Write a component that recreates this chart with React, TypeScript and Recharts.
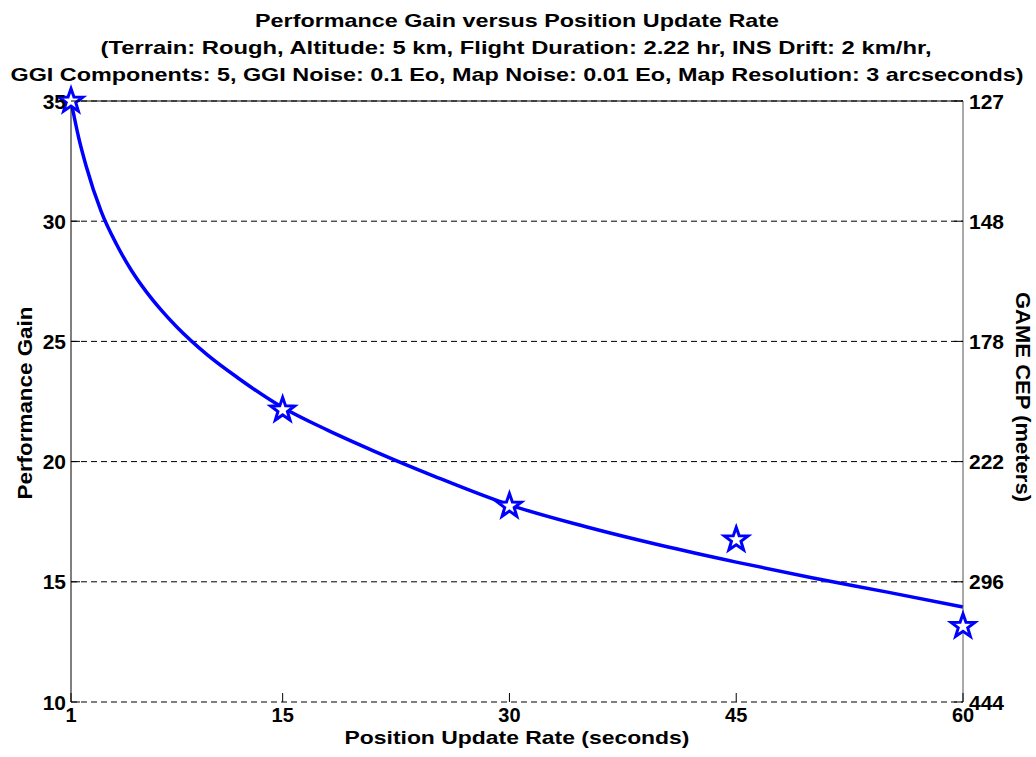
import React from 'react';
import { ComposedChart, Line, Scatter, XAxis, YAxis, CartesianGrid, ReferenceLine } from 'recharts';

// fitted curve
const curveX = [1, 1.5, 2, 3, 4, 5, 6, 7, 8, 10, 12, 15, 18, 21, 25, 30, 35, 40, 45, 50, 55, 60];
const curveGain = [35.0, 33.5, 32.3, 30.4, 29.05, 27.95, 27.05, 26.28, 25.6, 24.45, 23.5, 22.25, 21.3, 20.45, 19.4, 18.2, 17.3, 16.52, 15.82, 15.17, 14.57, 13.95];

// measured points (stars)
const rateX = [1, 15, 30, 45, 60];
const measuredGain = [35.0, 22.15, 18.15, 16.75, 13.15];

const xTicks = [1, 15, 30, 45, 60];
const gainTicks = [10, 15, 20, 25, 30, 35];
const cepLabels = ['444', '296', '222', '178', '148', '127'];

const titleLines = [
  'Performance Gain versus Position Update Rate',
  '(Terrain: Rough, Altitude: 5 km, Flight Duration: 2.22 hr, INS Drift: 2 km/hr,',
  'GGI Components: 5, GGI Noise: 0.1 Eo, Map Noise: 0.01 Eo, Map Resolution: 3 arcseconds)',
];

const FONT = '"Liberation Sans", Arial, sans-serif';
const BLUE = '#0000ff';

const curveData = curveX.map((x, i) => ({ x, gain: curveGain[i] }));
const starData = rateX.map((x, i) => ({ x, gain: measuredGain[i] }));

const BottomTick = ({ x, y, payload }: any) => (
  <g>
    <line x1={x} y1={y} x2={x} y2={y - 9} stroke="#000" />
    <text x={x} y={y + 20} textAnchor="middle" fontFamily={FONT} fontWeight="bold" fontSize={20} fill="#000">
      {payload.value}
    </text>
  </g>
);

const LeftTick = ({ x, y, payload }: any) => (
  <g>
    <line x1={x} y1={y} x2={x + 9} y2={y} stroke="#000" />
    <text x={x - 5} y={y + 7.5} textAnchor="end" fontFamily={FONT} fontWeight="bold" fontSize={21} fill="#000">
      {payload.value}
    </text>
  </g>
);

const RightTick = ({ x, y, payload }: any) => (
  <g>
    <line x1={x} y1={y} x2={x - 9} y2={y} stroke="#000" />
    <text x={x + 6} y={y + 7.5} textAnchor="start" fontFamily={FONT} fontWeight="bold" fontSize={21} fill="#000">
      {cepLabels[gainTicks.indexOf(Number(payload.value))]}
    </text>
  </g>
);

const Star = ({ cx, cy }: any) => {
  if (cx == null || cy == null) return null;
  const R = 12.5;
  const r = 5;
  let d = '';
  for (let k = 0; k < 10; k++) {
    const rad = k % 2 === 0 ? R : r;
    const a = -Math.PI / 2 + (k * Math.PI) / 5;
    d += (k === 0 ? 'M' : 'L') + (cx + rad * Math.cos(a)).toFixed(2) + ',' + (cy + rad * Math.sin(a)).toFixed(2);
  }
  d += 'Z';
  return <path d={d} fill="#fff" stroke={BLUE} strokeWidth={3} strokeLinejoin="miter" />;
};

export default function App() {
  return (
    <div style={{ position: 'absolute', left: 0, top: 0, width: 1036, height: 757, background: '#fff' }}>
      <ComposedChart width={1036} height={757} margin={{ top: 101, right: 0, bottom: 0, left: 0 }}>
        <CartesianGrid vertical={false} stroke="#000" strokeDasharray="6 4" yAxisId="left" />
        <XAxis
          type="number"
          dataKey="x"
          domain={[1, 60]}
          ticks={xTicks}
          axisLine={false}
          tickSize={0}
          tickMargin={0}
          tick={<BottomTick />}
          height={55}
        />
        <YAxis
          yAxisId="left"
          type="number"
          domain={[10, 35]}
          ticks={gainTicks}
          width={71}
          axisLine={{ stroke: '#000' }}
          tickSize={0}
          tickMargin={0}
          tick={<LeftTick />}
        />
        <YAxis
          yAxisId="right"
          orientation="right"
          type="number"
          domain={[10, 35]}
          ticks={gainTicks}
          allowDataOverflow
          width={73}
          axisLine={{ stroke: '#555' }}
          tickSize={0}
          tickMargin={0}
          tick={<RightTick />}
        />
        <ReferenceLine yAxisId="left" y={35} stroke="#000" />
        <Line
          yAxisId="left"
          data={curveData}
          dataKey="gain"
          type="monotone"
          stroke={BLUE}
          strokeWidth={3.5}
          dot={false}
          activeDot={false}
          isAnimationActive={false}
        />
        <Scatter
          yAxisId="left"
          data={starData}
          dataKey="gain"
          shape={<Star />}
          isAnimationActive={false}
        />
      </ComposedChart>
      <svg width={1036} height={757} style={{ position: 'absolute', left: 0, top: 0, pointerEvents: 'none' }}>
        <g fontFamily={FONT} fontWeight="bold" fontSize={19} fill="#000" textAnchor="middle">
          <text x={517} y={27} textLength={524} lengthAdjust="spacingAndGlyphs">{titleLines[0]}</text>
          <text x={516} y={54} textLength={831} lengthAdjust="spacingAndGlyphs">{titleLines[1]}</text>
          <text x={517} y={81} textLength={1013} lengthAdjust="spacingAndGlyphs">{titleLines[2]}</text>
        </g>
        <g fontFamily={FONT} fontWeight="bold" fontSize={19} fill="#000" textAnchor="middle">
          <text x={517} y={744} textLength={345} lengthAdjust="spacingAndGlyphs">Position Update Rate (seconds)</text>
        </g>
        <g fontFamily={FONT} fontWeight="bold" fontSize={20} fill="#000" textAnchor="middle">
          <text x={32} y={403} transform="rotate(-90 32 403)" textLength={193} lengthAdjust="spacingAndGlyphs">Performance Gain</text>
          <text x={1016} y={397} transform="rotate(90 1016 397)" textLength={210} lengthAdjust="spacingAndGlyphs">GAME CEP (meters)</text>
        </g>
      </svg>
    </div>
  );
}
